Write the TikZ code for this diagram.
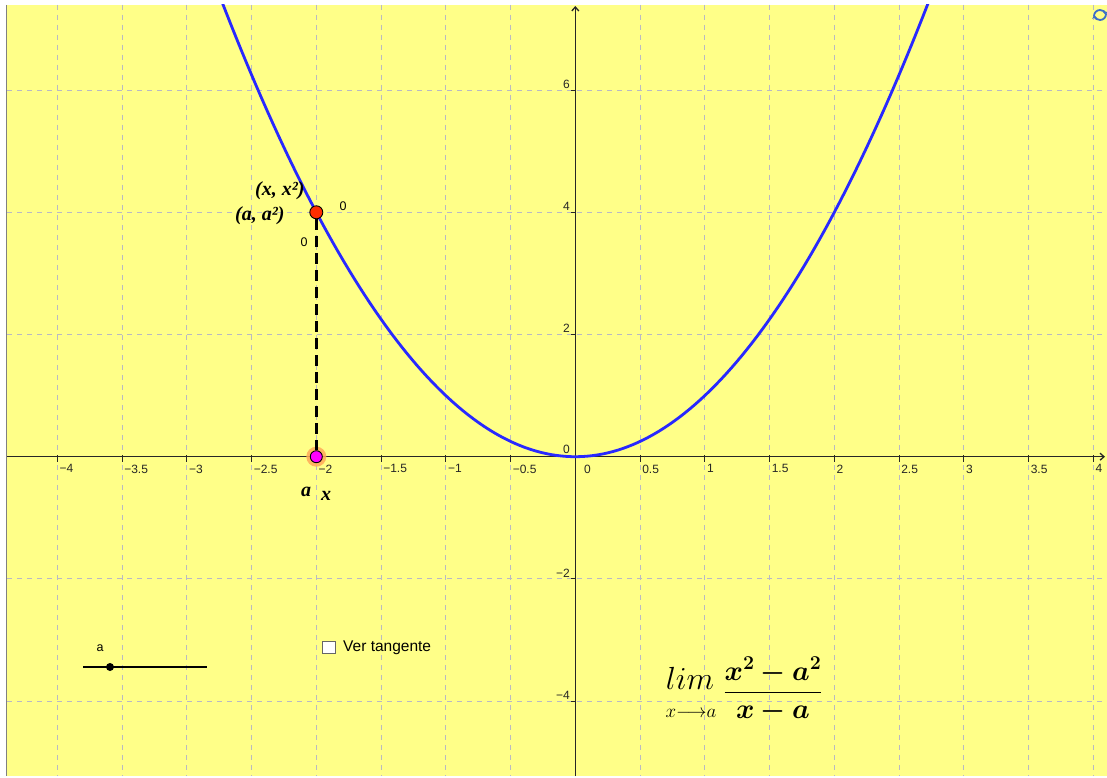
\RequirePackage{fix-cm}
\documentclass[tikz,border=0pt]{standalone}
\usepackage[no-math]{fontspec}
\setmainfont{Liberation Serif}
\setsansfont{Liberation Sans}
\usepackage{amsmath,bm}
\usetikzlibrary{arrows.meta}
\definecolor{bg}{RGB}{255,255,136}
\definecolor{gridc}{RGB}{185,185,195}
\definecolor{curveblue}{RGB}{40,40,255}
\definecolor{ptred}{RGB}{255,45,0}
\definecolor{halo}{RGB}{255,170,90}
\definecolor{ptpink}{RGB}{255,0,255}
\definecolor{iconblue}{RGB}{60,110,200}
\tikzset{
  gridline/.style={gridc, line width=0.9pt, dash pattern=on 5pt off 5pt},
  axisline/.style={black!85, line width=1.3pt},
  ticklab/.style={font=\sffamily\fontsize{12}{14}\selectfont, text=black!85, inner sep=0pt},
  curve/.style={curveblue, line width=2.8pt},
  redpt/.style={circle, draw=black, line width=0.9pt, fill=ptred, minimum size=13pt, inner sep=0pt},
  pinkpt/.style={circle, draw=black, line width=0.9pt, fill=ptpink, minimum size=12pt, inner sep=0pt},
  seglink/.style={black, line width=2.4pt, dash pattern=on 11pt off 6pt},
  ptlabel/.style={font=\bfseries\itshape\fontsize{20}{22}\selectfont, inner sep=0pt},
  zerolab/.style={font=\sffamily\fontsize{12.5}{14}\selectfont, inner sep=0pt},
  sliderdot/.style={circle, fill=black, minimum size=8pt, inner sep=0pt},
  checkbox/.style={draw=gray!80!black, fill=white, line width=1pt, minimum width=13pt, minimum height=12pt, inner sep=0pt},
}
\begin{document}
\begin{tikzpicture}[x=1pt,y=-1pt]
\useasboundingbox (0,0) rectangle (1107,778);
\fill[white] (0,0) rectangle (1107,778);
\fill[bg] (6,5) rectangle (1107,776);
\draw[gray, line width=1pt] (6.5,5) -- (6.5,776);
\begin{scope}
\clip (7,5) rectangle (1107,776);
% vertical grid lines
\foreach \k in {-8,...,8} {
  \ifnum\k=0\else
    \draw[gridline] ({575.3+64.75*\k},5) -- ({575.3+64.75*\k},776);
  \fi
}
% horizontal grid lines
\foreach \j in {-2,-1,1,2,3} {
  \draw[gridline] (7,{456.7-122.2*\j}) -- (1107,{456.7-122.2*\j});
}
% axes
\draw[axisline, -{Straight Barb[length=4pt,width=7pt]}] (7,456.7) -- (1105,456.7);
\draw[axisline, -{Straight Barb[length=4pt,width=7pt]}] (575.3,776) -- (575.3,6);
% x ticks and labels
\foreach \k/\lab in {-8/−4,-7/−3.5,-6/−3,-5/−2.5,-4/−2,-3/−1.5,-2/−1,-1/−0.5,1/0.5,2/1,3/1.5,4/2,5/2.5,6/3,7/3.5,8/4} {
  \draw[axisline, line width=1pt] ({575.3+64.75*\k},455) -- ({575.3+64.75*\k},462);
  \node[ticklab, anchor=north west] at ({575.3+64.75*\k+2},464.5) {\lab};
}
\node[ticklab, anchor=north west] at (584,464.5) {0};
\node[ticklab, anchor=south east] at (570,454) {0};
% y ticks and labels
\foreach \j/\lab in {3/6,2/4,1/2,-1/−2,-2/−4} {
  \draw[axisline, line width=1pt] (571,{456.7-122.2*\j}) -- (575.3,{456.7-122.2*\j});
  \node[ticklab, anchor=south east] at (570,{456.7-122.2*\j-1.5}) {\lab};
}
% parabola
\draw[curve] plot[domain=-2.78:2.76, samples=140] ({575.3+129.5*\x},{456.7-61.1*\x*\x});
\end{scope}
% halo
\fill[halo, opacity=0.85] (316.3,456.7) circle (10pt);
% points
\node[redpt] (P) at (316.3,212.3) {};
\node[pinkpt] (A) at (316.3,456.7) {};
\draw[seglink] (P) -- (A);
% point labels
\node[ptlabel, anchor=base west] (lx) at (255,195) {(x, x²)};
\node[ptlabel, anchor=base west] (la) at (235,220) {(a, a²)};
\node[zerolab] (z1) at (343,206) {0};
\node[zerolab] (z2) at (304,242) {0};
\node[ptlabel] (na) at (306,492) {a};
\node[ptlabel] (nx) at (326,496) {x};
% slider
\coordinate (s1) at (83,667);
\coordinate (s2) at (207,667);
\draw[black, line width=1.8pt] (s1) -- (s2);
\node[sliderdot] (S) at (110,667) {};
\node[zerolab] (sa) at (100,648) {a};
% checkbox
\node[checkbox] (cb) at (329,647.5) {};
\node[font=\sffamily\fontsize{15.5}{17}\selectfont, anchor=west, inner sep=0pt] (cbt) at (343,648) {Ver tangente};
% formula
\node[font=\fontsize{32}{36}\selectfont, inner sep=0pt, anchor=base] (L) at (690,689) {$lim$};
\node[font=\fontsize{19}{23}\selectfont, inner sep=0pt, anchor=base] (Ls) at (691,717) {$x{\longrightarrow}a$};
\node[font=\fontsize{28}{32}\selectfont, inner sep=0pt, anchor=base] (Fr) at (773,699) {$\displaystyle \frac{\bm{x^2-a^2}}{\bm{x-a}}$};
% refresh icon
\draw[iconblue, line width=1.8pt, -{Stealth[length=3.5pt,width=5pt]}] (1106,14) arc (0:170:6);
\draw[iconblue, line width=1.8pt, -{Stealth[length=3.5pt,width=5pt]}] (1094,16) arc (180:350:6);
\end{tikzpicture}
\end{document}
